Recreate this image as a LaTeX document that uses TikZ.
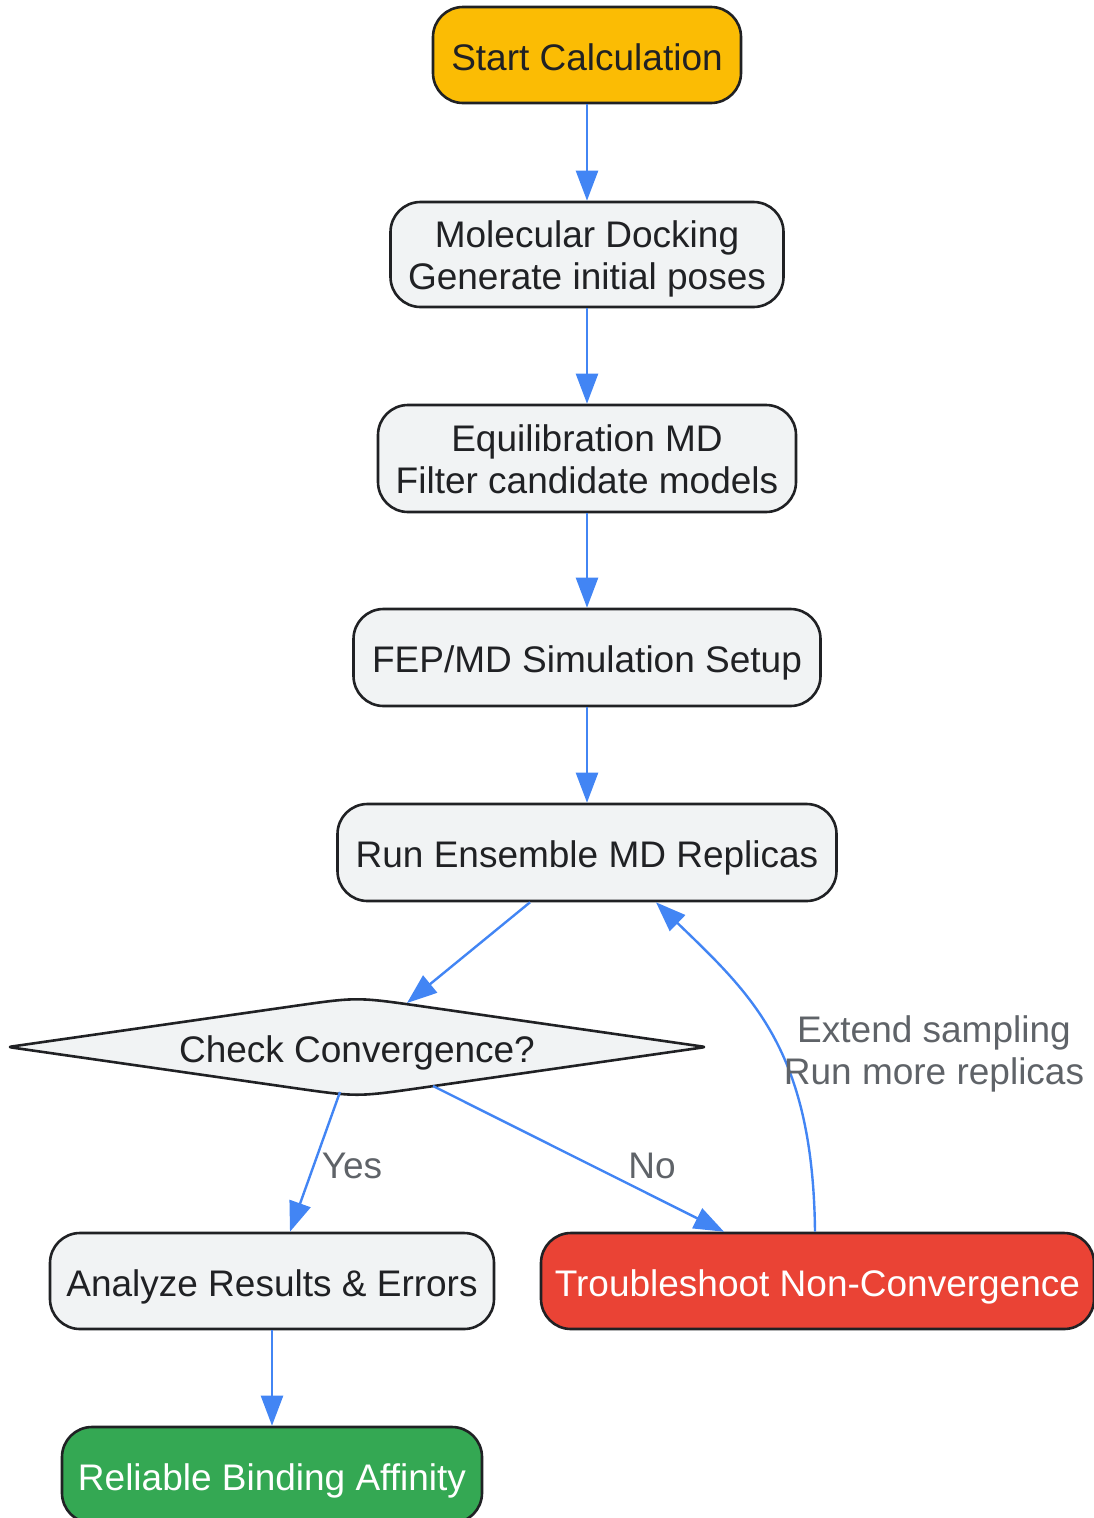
\documentclass[tikz,border=0pt]{standalone}
\usepackage{fontspec}
\setmainfont{Liberation Sans}
\usetikzlibrary{arrows.meta,calc,shapes.geometric}
\definecolor{cOrange}{HTML}{FBBC04}
\definecolor{cGrey}{HTML}{F1F3F4}
\definecolor{cRed}{HTML}{EA4335}
\definecolor{cGreen}{HTML}{34A853}
\definecolor{cLine}{HTML}{4285F4}
\definecolor{cText}{HTML}{202124}
\definecolor{cLbl}{HTML}{5F6368}
\definecolor{cBorder}{HTML}{202124}
\newcommand\sst{\rule[-8.5pt]{0pt}{47pt}}
\newcommand\stTop{\rule{0pt}{37pt}}
\newcommand\stBot{\rule[-8.5pt]{0pt}{0pt}}
\begin{document}
\begin{tikzpicture}[x=1pt,y=-1pt,
  box/.style={draw=cBorder, line width=2.6pt, rounded corners=30pt, fill=cGrey, text=cText,
              inner sep=0pt, align=center, font=\fontsize{37}{42}\selectfont},
  arr/.style={draw=cLine, line width=2.4pt, -{Triangle[length=30pt,width=22pt]}},
  lbl/.style={text=cLbl, inner sep=0pt, align=center, font=\fontsize{37}{42}\selectfont},
  dtext/.style={text=cText, inner sep=0pt, align=center, font=\fontsize{37}{42}\selectfont}]
\useasboundingbox (0,0) rectangle (1094,1518);
\clip (0,0) rectangle (1094,1518);

% nodes
\node[box, fill=cOrange, minimum width=308pt, minimum height=96pt] (start) at (587,55) {\sst Start Calculation};
\node[box, minimum width=393pt, minimum height=105pt] (dock) at (587,254.5) {\stTop Molecular Docking\\\stBot Generate initial poses};
\node[box, minimum width=418pt, minimum height=107pt] (equil) at (587,458.5) {\stTop Equilibration MD\\\stBot Filter candidate models};
\node[box, minimum width=467pt, minimum height=97pt] (fep) at (587,657.5) {\sst FEP/MD Simulation Setup};
\node[box, minimum width=499pt, minimum height=97pt] (run) at (587,852.5) {\sst Run Ensemble MD Replicas};

\path[draw=cBorder, line width=2.6pt, fill=cGrey, line join=round]
  (292.7,1006.2) .. controls (357,997) .. (421.3,1006.2) -- (698.1,1045.9)
  .. controls (706,1047) .. (698.1,1048.1) -- (421.3,1087.8)
  .. controls (357,1097) .. (292.7,1087.8) -- (15.9,1048.1)
  .. controls (8,1047) .. (15.9,1045.9) -- cycle;
\node[dtext, diamond, aspect=7.27, minimum width=698pt, minimum height=100pt] (check) at (357,1047) {\sst Check Convergence?};

\node[box, minimum width=444pt, minimum height=96pt] (analyze) at (272,1281) {\sst Analyze Results \& Errors};
\node[box, fill=cRed, text=white, minimum width=553pt, minimum height=96pt] (trouble) at (817.5,1281) {\sst Troubleshoot Non-Convergence};
\node[box, fill=cGreen, text=white, minimum width=420pt, minimum height=96pt] (reliable) at (272,1475) {\sst Reliable Binding Affinity};

% edges
\draw[arr] (start.south) -- (dock.north);
\draw[arr] (dock.south) -- (equil.north);
\draw[arr] (equil.south) -- (fep.north);
\draw[arr] (fep.south) -- (run.north);
\draw[arr] ($(run.south)+(-57,0)$) -- ($(check.center)+(50,-44)$);
\draw[arr] ($(check.center)+(-17,45)$) -- node[lbl, pos=0.514, xshift=37.7pt] {\sst Yes} ($(analyze.north)+(18,0)$);
\draw[arr] ($(check.center)+(76,39)$) -- node[lbl, pos=0.531, xshift=64.5pt] {\sst No} ($(trouble.north)+(-93.5,0)$);
\draw[arr] ($(trouble.north)+(-2.5,0)$) .. controls (813,1050) and (752,995) .. node[lbl, pos=0.5, xshift=163.25pt, yshift=-15.4pt] {\stTop Extend sampling\\\stBot Run more replicas} ($(run.south)+(69,0)$);
\draw[arr] (analyze.south) -- (reliable.north);
\end{tikzpicture}
\end{document}
